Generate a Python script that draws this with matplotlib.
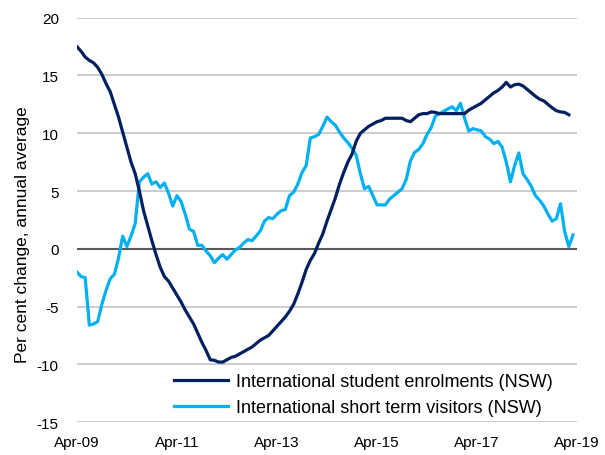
import matplotlib
matplotlib.use("Agg")
import matplotlib.pyplot as plt
import numpy as np

tick_labels = ["Apr-09", "Apr-11", "Apr-13", "Apr-15", "Apr-17", "Apr-19"]
series_names = ["International student enrolments (NSW)",
                "International short term visitors (NSW)"]

# monthly values from Apr-09
student_enrolments = [
    17.5, 17.1, 16.6, 16.3, 16.1, 15.7, 15.1, 14.3, 13.6, 12.5,
    11.4, 10.1, 8.8, 7.5, 6.5, 5.0, 3.3, 2.0, 0.7, -0.5,
    -1.6, -2.4, -2.8, -3.4, -4.0, -4.6, -5.3, -5.9, -6.5, -7.3,
    -8.1, -8.8, -9.6, -9.65, -9.8, -9.8, -9.6, -9.4, -9.3, -9.1,
    -8.9, -8.7, -8.5, -8.2, -7.9, -7.7, -7.5, -7.1, -6.7, -6.3,
    -5.9, -5.4, -4.8, -3.9, -2.9, -1.8, -1.0, -0.4, 0.5, 1.3,
    2.4, 3.4, 4.4, 5.6, 6.6, 7.5, 8.2, 9.3, 10.0, 10.3,
    10.6, 10.8, 11.0, 11.1, 11.3, 11.3, 11.3, 11.3, 11.3, 11.1,
    11.0, 11.3, 11.6, 11.7, 11.7, 11.85, 11.8, 11.7, 11.7, 11.7,
    11.7, 11.7, 11.7, 11.7, 12.0, 12.2, 12.4, 12.6, 12.9, 13.2,
    13.5, 13.7, 14.0, 14.4, 14.0, 14.2, 14.25, 14.1, 13.8, 13.5,
    13.2, 12.95, 12.8, 12.5, 12.2, 11.95, 11.85, 11.8, 11.6,
]

short_term_visitors = [
    -2.0, -2.4, -2.5, -6.6, -6.5, -6.3, -4.8, -3.6, -2.6, -2.2,
    -0.8, 1.1, 0.2, 1.1, 2.2, 5.8, 6.2, 6.5, 5.6, 5.8,
    5.3, 5.7, 4.8, 3.7, 4.6, 4.1, 3.0, 1.7, 1.5, 0.3,
    0.3, -0.2, -0.6, -1.2, -0.8, -0.5, -0.9, -0.5, -0.1, 0.1,
    0.5, 0.8, 0.7, 1.1, 1.55, 2.4, 2.7, 2.6, 3.0, 3.3,
    3.4, 4.6, 4.9, 5.6, 6.6, 7.2, 9.6, 9.7, 9.9, 10.6,
    11.4, 11.0, 10.7, 10.1, 9.6, 9.2, 8.7, 8.1, 6.5, 5.2,
    5.4, 4.6, 3.8, 3.8, 3.8, 4.3, 4.6, 4.9, 5.2, 6.0,
    7.6, 8.35, 8.6, 9.1, 9.9, 10.5, 11.5, 11.7, 11.9, 12.1,
    12.3, 11.95, 12.6, 11.3, 10.2, 10.4, 10.3, 10.2, 9.7, 9.5,
    9.1, 9.3, 8.8, 7.5, 5.8, 7.2, 8.3, 6.5, 6.0, 5.4,
    4.6, 4.2, 3.7, 3.0, 2.4, 2.6, 3.9, 1.5, 0.2, 1.2,
]

plt.rcParams['font.family'] = ['Liberation Sans', 'DejaVu Sans']

fig = plt.figure(figsize=(6.05, 4.56), dpi=100)
ax = fig.add_axes([0.127, 0.072, 0.827, 0.887])

yticks = [-15, -10, -5, 0, 5, 10, 15, 20]
for y in yticks:
    if y == 0:
        continue
    ax.axhline(y, color="#C8C8C8", lw=1.3, zorder=0)
ax.axhline(0, color="#595959", lw=1.5, zorder=1)

ax.plot(np.arange(len(student_enrolments)), student_enrolments,
        color="#002060", lw=2.3, label=series_names[0], zorder=3)
ax.plot(np.arange(len(short_term_visitors)), short_term_visitors,
        color="#00B0F0", lw=2.3, label=series_names[1], zorder=2)

ax.set_xlim(0, 120)
ax.set_ylim(-15, 20)
ax.set_yticks(yticks)
ax.set_yticklabels([str(v) for v in yticks], fontsize=11)
ax.set_xticks(np.arange(0, 121, 24))
ax.set_xticklabels(tick_labels, fontsize=11)
ax.tick_params(axis='both', length=0, colors="#000000")
ax.tick_params(axis='y', pad=13)
ax.tick_params(axis='x', pad=9)
for s in ax.spines.values():
    s.set_visible(False)

ax.set_ylabel("Per cent change, annual average", fontsize=12.5)
ax.yaxis.set_label_coords(-0.094, 0.465)

leg = ax.legend(loc="center left", bbox_to_anchor=(0.18, 0.068), frameon=False,
                fontsize=13, handlelength=3.0, handletextpad=0.4,
                labelspacing=0.5, borderaxespad=0.0)

fig.savefig("out.png", dpi=100)
